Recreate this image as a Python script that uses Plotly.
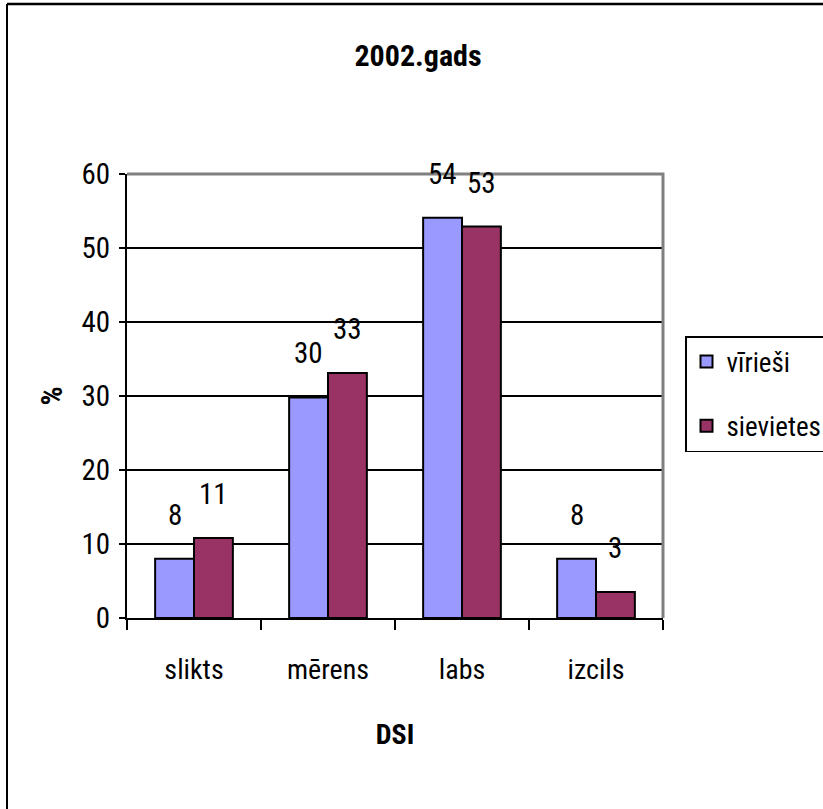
import plotly.graph_objects as go

categories = ["slikts", "mērens", "labs", "izcils"]
series_names = ["vīrieši", "sievietes"]
men_values = [8.0, 29.8, 54.1, 8.0]
women_values = [10.8, 33.1, 52.9, 3.5]
men_labels = ["8", "30", "54", "8"]
women_labels = ["11", "33", "53", "3"]
y_ticks = [0, 10, 20, 30, 40, 50, 60]

colors = ["#9999FF", "#993366"]
FONT = "Liberation Sans Narrow, Arial Narrow, Noto Sans Condensed, Roboto Condensed, DejaVu Sans Condensed, sans-serif"

W, H = 823, 809
L, R, T, B = 127, 160, 174, 191
PW, PH = W - L - R, H - T - B

fig = go.Figure()
for name, vals, col in zip(series_names, [men_values, women_values], colors):
    fig.add_trace(go.Bar(
        x=categories, y=vals, name=name,
        marker=dict(color=col, line=dict(color="black", width=2)),
        legendgroup=name, hoverinfo="skip",
    ))

bargap = 0.42
half = (1 - bargap) / 4 * (PW / len(categories))
annotations = []
for vals, labels, sh in [(men_values, men_labels, -half), (women_values, women_labels, half)]:
    for c, v, t in zip(categories, vals, labels):
        annotations.append(dict(
            x=c, y=v, text=t, showarrow=False, xref="x", yref="y",
            xshift=sh, yshift=44, yanchor="middle", xanchor="center",
            font=dict(family=FONT, size=29, color="black"),
        ))

def px_x(px):
    return (px - L) / PW

def px_y(py):
    return (H - B - py) / PH

shapes = [
    dict(type="path", xref="paper", yref="paper",
         path="M 0,1 L 1,1 L 1,0", line=dict(color="#808080", width=3), layer="above"),
    dict(type="line", xref="paper", yref="paper", x0=px_x(7), x1=px_x(7),
         y0=px_y(4), y1=px_y(830), line=dict(color="black", width=2)),
    dict(type="line", xref="paper", yref="paper", x0=px_x(7), x1=px_x(840),
         y0=px_y(4), y1=px_y(4), line=dict(color="black", width=2.5)),
]

fig.update_layout(
    width=W, height=H,
    margin=dict(l=L, r=R, t=T, b=B, autoexpand=False),
    paper_bgcolor="white", plot_bgcolor="white",
    barmode="group", bargap=bargap, bargroupgap=0,
    font=dict(family=FONT, size=28, color="black"),
    title=dict(text="<b>2002.gads</b>", x=px_x(418), xref="paper", xanchor="center",
               y=1 - 55 / H, yanchor="middle", yref="container",
               font=dict(family=FONT, size=30, color="black")),
    xaxis=dict(
        type="category", showgrid=False, showline=True, linecolor="black", linewidth=2,
        ticks="outside", tickson="boundaries", ticklen=10, tickcolor="black", tickwidth=1.5,
        ticklabelstandoff=25,
        tickfont=dict(family=FONT, size=28, color="black"),
        title=dict(text="<b>DSI</b>", standoff=40, font=dict(family=FONT, size=28, color="black")),
        automargin=False, fixedrange=True,
    ),
    yaxis=dict(
        range=[0, 60], tickvals=y_ticks, showgrid=True, gridcolor="black", gridwidth=1.5,
        showline=True, linecolor="black", linewidth=2, zeroline=False,
        ticks="outside", ticklen=6, tickcolor="black", tickwidth=1.5,
        ticklabelstandoff=3,
        tickfont=dict(family=FONT, size=29, color="black"),
        title=dict(text="<b>%</b>", standoff=10, font=dict(family=FONT, size=30, color="black")),
        automargin=False, fixedrange=True,
    ),
    legend=dict(
        x=px_x(685), y=px_y(336), xanchor="left", yanchor="top",
        bordercolor="black", borderwidth=1.5, bgcolor="white",
        font=dict(family=FONT, size=27, color="black"),
        tracegroupgap=26, traceorder="grouped",
    ),
    annotations=annotations,
    shapes=shapes,
    showlegend=True,
)

fig.write_html("out.html")
